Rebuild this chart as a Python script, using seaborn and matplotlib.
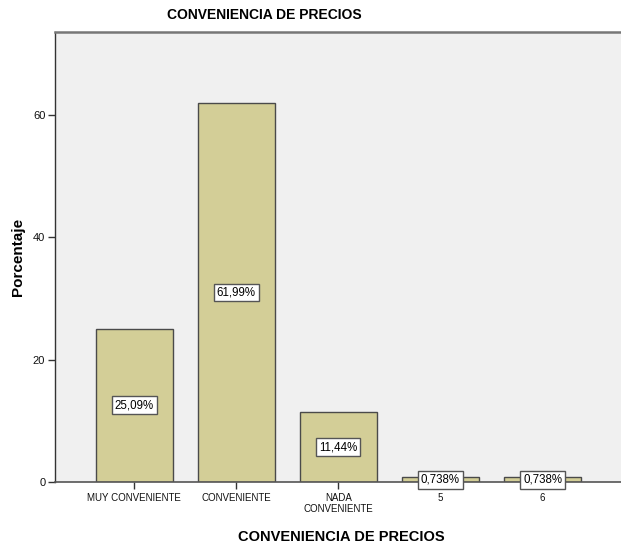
import matplotlib
matplotlib.use("Agg")
import matplotlib.pyplot as plt
import seaborn as sns
import pandas as pd

categories = ["MUY CONVENIENTE", "CONVENIENTE", "NADA\nCONVENIENTE", "5", "6"]
porcentajes = [25.09, 61.99, 11.44, 0.738, 0.738]
etiquetas = ["25,09%", "61,99%", "11,44%", "0,738%", "0,738%"]
yticks = [0, 20, 40, 60]

sns.set_theme(style="white")
plt.rcParams["font.family"] = ["Liberation Sans", "DejaVu Sans"]
plt.rcParams["text.color"] = "black"

df = pd.DataFrame({"categoria": categories, "porcentaje": porcentajes})

fig = plt.figure(figsize=(6.21, 5.49), dpi=100)
ax = fig.add_axes([55 / 621, 1 - 482 / 549, 1 - 55 / 621 + 0.01, (482 - 32) / 549])
ax.set_facecolor("#f0f0f0")

sns.barplot(data=df, x="categoria", y="porcentaje", order=categories,
            color="#d3ce97", saturation=1, width=0.755,
            edgecolor="#4a4a4a", linewidth=1.0, ax=ax)

for i, (v, t) in enumerate(zip(porcentajes, etiquetas)):
    ax.text(i, v / 2, t, ha="center", va="center", fontsize=8.3,
            color="black",
            bbox=dict(boxstyle="square,pad=0.25", facecolor="white",
                      edgecolor="#555555", linewidth=1.0))

ax.set_xlim(-0.777, 4.83)
ax.set_ylim(0, 73.6)
ax.set_yticks(yticks)
ax.set_yticklabels([str(v) for v in yticks], fontsize=8, color="#111111")
ax.set_xticks(range(len(categories)))
ax.set_xticklabels(categories, fontsize=7, color="#111111", linespacing=1.15)
ax.tick_params(axis="both", direction="out", length=5, width=1,
               color="#333333", pad=2, left=True, bottom=True)
ax.tick_params(axis="x", pad=3)

ax.spines["right"].set_visible(False)
ax.spines["left"].set_color("#333333")
ax.spines["left"].set_linewidth(1)
ax.spines["bottom"].set_color("#555555")
ax.spines["bottom"].set_linewidth(1.2)
ax.spines["top"].set_color("#777777")
ax.spines["top"].set_linewidth(1.8)

ax.set_xlabel("CONVENIENCIA DE PRECIOS", fontsize=10.5, fontweight="bold",
              labelpad=11, color="black")
ax.set_ylabel("Porcentaje", fontsize=11, fontweight="bold", labelpad=6,
              color="black")
fig.text(264 / 621, 1 - 15 / 549, "CONVENIENCIA DE PRECIOS", ha="center",
         va="center", fontsize=10, fontweight="bold", color="black")

fig.savefig("out.png", dpi=100)
